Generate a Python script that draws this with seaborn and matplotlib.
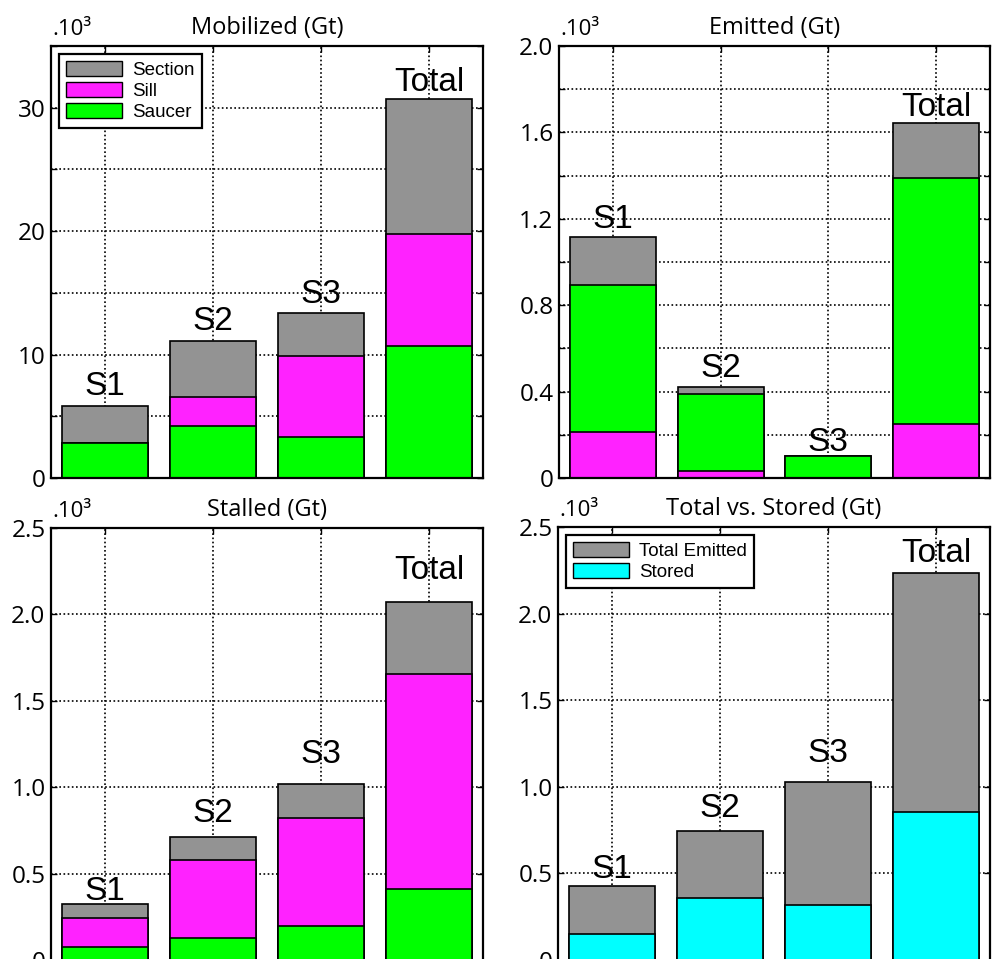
import matplotlib
matplotlib.use("Agg")
import matplotlib.pyplot as plt
from matplotlib.patches import Patch
import seaborn as sns
import pandas as pd
import numpy as np

# data (values in 10^3 Gt)
groups = ["S1", "S2", "S3", "Total"]

mob_saucer = [2.8, 4.25, 3.3, 10.7]
mob_sill = [0.0, 2.35, 6.6, 9.1]
mob_section = [3.0, 4.5, 3.5, 10.9]

emi_sill = [0.215, 0.034, 0.0, 0.25]
emi_saucer = [0.68, 0.354, 0.10, 1.14]
emi_section = [0.223, 0.035, 0.0, 0.253]

stall_saucer = [0.078, 0.128, 0.196, 0.413]
stall_sill = [0.164, 0.453, 0.628, 1.24]
stall_section = [0.08, 0.132, 0.195, 0.417]

total_emitted = [0.428, 0.747, 1.029, 2.234]
stored = [0.149, 0.357, 0.315, 0.855]

GRAY = "#939393"
MAGENTA = "#ff22ff"
GREEN = "#00ff00"
CYAN = "#00ffff"

sns.set_style("white")
plt.rcParams["font.family"] = ["Open Sans", "DejaVu Sans"]
plt.rcParams["text.color"] = "black"
plt.rcParams["xtick.color"] = "black"
plt.rcParams["ytick.color"] = "black"
plt.rcParams["axes.titlecolor"] = "black"

fig = plt.figure(figsize=(9.94, 9.59), dpi=100)
W, H = 994.0, 959.0


def make_ax(x0, x1, ytop, ybot):
    return fig.add_axes([x0 / W, 1 - ybot / H, (x1 - x0) / W, (ybot - ytop) / H])


def stacked(ax, layers, colors):
    # draw cumulative sums from the top down so each layer sits on the one below
    cum = np.cumsum(np.array(layers), axis=0)
    for vals, col in zip(cum[::-1], colors[::-1]):
        df = pd.DataFrame({"group": groups, "value": vals})
        sns.barplot(data=df, x="group", y="value", color=col, width=0.8,
                    edgecolor="black", linewidth=1.2, saturation=1, ax=ax)
    return cum[-1]


def style(ax, title, ymax, step, label_every, label_fmt, tops, offsets):
    ax.set_xlim(-0.5, 3.5)
    ax.set_ylim(0, ymax)
    ticks = np.arange(0, ymax + step / 2, step)
    ax.set_yticks(ticks)
    labels = []
    for i, t in enumerate(ticks):
        if i % label_every:
            labels.append("")
        elif t == 0:
            labels.append("0")
        else:
            labels.append(label_fmt.format(t))
    ax.set_yticklabels(labels, fontsize=17.5)
    ax.set_xticks(range(4))
    ax.set_xticklabels([])
    ax.set_xlabel("")
    ax.set_ylabel("")
    ax.tick_params(direction="in", length=4, width=1, color="black",
                   top=True, right=True, bottom=True, left=True, pad=4)
    ax.set_axisbelow(True)
    ax.grid(True, color="black", linestyle=(0, (1, 1.5)), linewidth=1.2)
    for sp in ax.spines.values():
        sp.set_visible(True)
        sp.set_color("black")
        sp.set_linewidth(1.6)
    ax.set_title(title, fontsize=17, pad=9)
    ax.annotate(".10³", (0.003, 1.0), xycoords="axes fraction",
                xytext=(0, 8), textcoords="offset points",
                fontsize=16, ha="left", va="baseline")
    for i, (g, top) in enumerate(zip(groups, tops)):
        ax.annotate(g, (i, top), xytext=(0, offsets[i]), textcoords="offset points",
                    ha="center", va="baseline", fontsize=24,
                    family="Liberation Sans")


def legend(ax, names, colors):
    handles = [Patch(facecolor=c, edgecolor="black", linewidth=1.0) for c in colors]
    leg = ax.legend(handles, names, loc="upper left",
                    prop={"family": "Liberation Sans", "size": 13.5},
                    handlelength=3.0, handleheight=0.85, handletextpad=0.5,
                    labelspacing=0.15, borderpad=0.4, borderaxespad=0.4,
                    frameon=True, fancybox=False, shadow=False)
    leg.get_frame().set_edgecolor("black")
    leg.get_frame().set_linewidth(1.6)
    leg.get_frame().set_alpha(1)


# Mobilized
ax1 = make_ax(51, 483, 46, 478)
tops = stacked(ax1, [mob_saucer, mob_sill, mob_section], [GREEN, MAGENTA, GRAY])
style(ax1, "Mobilized (Gt)", 35, 5, 2, "{:.0f}", tops, [8, 8, 7, 6])
legend(ax1, ["Section", "Sill", "Saucer"], [GRAY, MAGENTA, GREEN])

# Emitted
ax2 = make_ax(559, 990, 46, 478)
tops = stacked(ax2, [emi_sill, emi_saucer, emi_section], [MAGENTA, GREEN, GRAY])
style(ax2, "Emitted (Gt)", 2.0, 0.2, 2, "{:.1f}", tops, [6, 7, 4, 5])

# Stalled
ax3 = make_ax(51, 483, 528, 960)
tops = stacked(ax3, [stall_saucer, stall_sill, stall_section], [GREEN, MAGENTA, GRAY])
style(ax3, "Stalled (Gt)", 2.5, 0.5, 1, "{:.1f}", tops, [3, 11, 15, 17])

# Total vs. Stored
ax4 = make_ax(558, 990, 527, 960)
for vals, col in [(total_emitted, GRAY), (stored, CYAN)]:
    df = pd.DataFrame({"group": groups, "value": vals})
    sns.barplot(data=df, x="group", y="value", color=col, width=0.8,
                edgecolor="black", linewidth=1.2, saturation=1, ax=ax4)
style(ax4, "Total vs. Stored (Gt)", 2.5, 0.5, 1, "{:.1f}", total_emitted, [6, 10, 14, 8])
legend(ax4, ["Total Emitted", "Stored"], [GRAY, CYAN])

fig.savefig("out.png", dpi=100)
